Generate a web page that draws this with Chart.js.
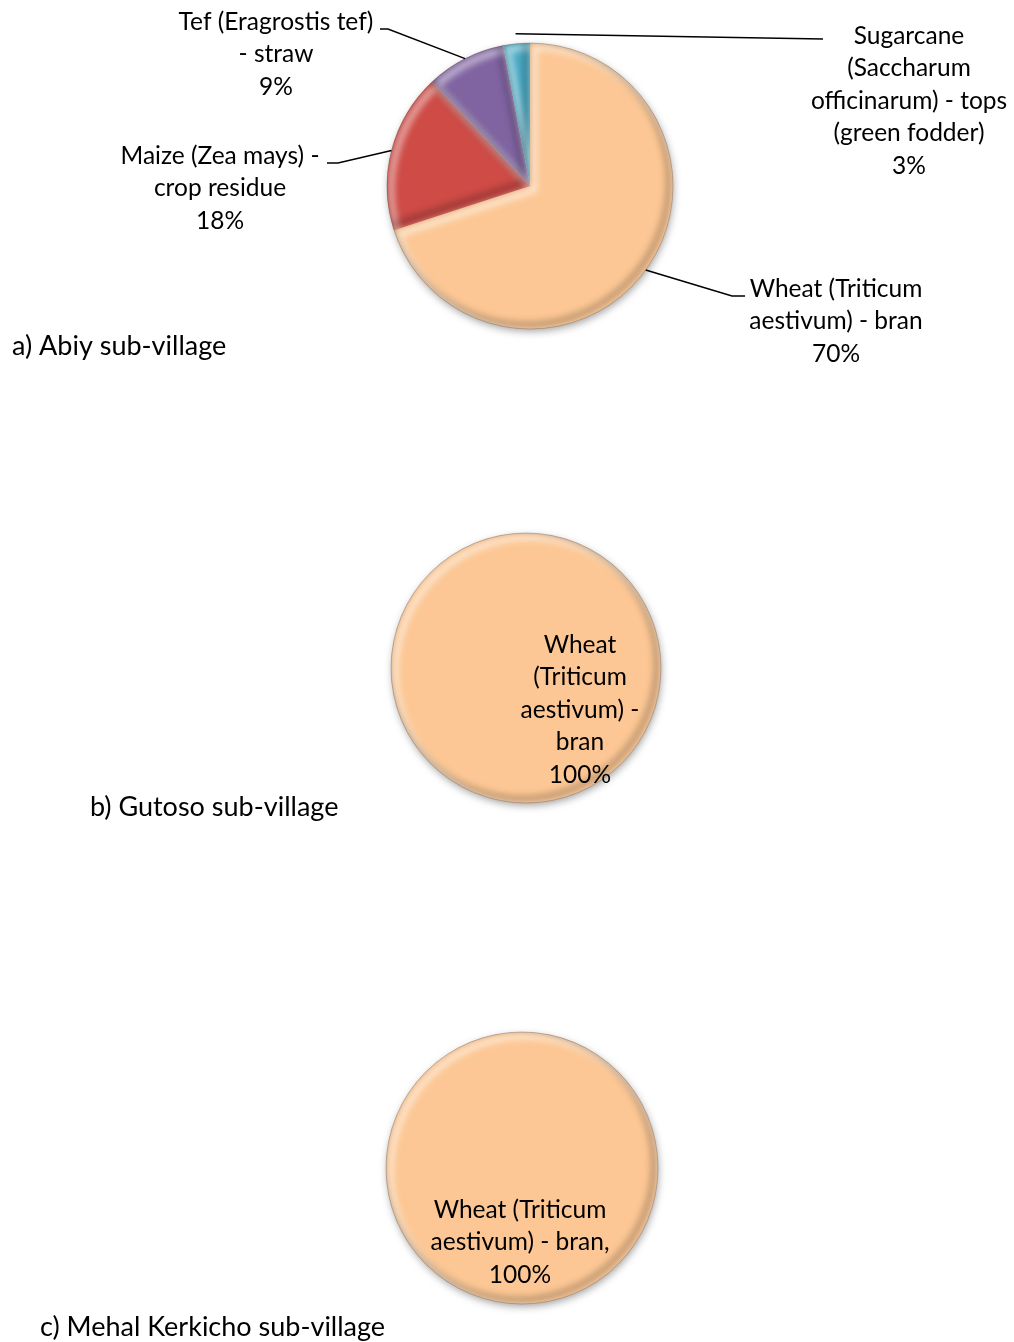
<!DOCTYPE html>
<html>
<head>
<meta charset="utf-8">
<script src="https://cdn.jsdelivr.net/npm/chart.js@4.4.1/dist/chart.umd.min.js"></script>
<style>
    html, body { margin: 0; padding: 0; background: #fff; }
    #page { position: relative; width: 1014px; height: 1342px; overflow: hidden; }
    canvas { position: absolute; left: 0; }
</style>
</head>
<body>
<div id="page">
    <canvas id="abiy" width="1014" height="420" style="top:0"></canvas>
    <canvas id="gutoso" width="1014" height="450" style="top:420px"></canvas>
    <canvas id="mehal" width="1014" height="472" style="top:870px"></canvas>
</div>
<script>
// data
const abiyLabels = [
    'Wheat (Triticum aestivum) - bran',
    'Maize (Zea mays) - crop residue',
    'Tef (Eragrostis tef) - straw',
    'Sugarcane (Saccharum officinarum) - tops (green fodder)'
]
const abiyValues = [70, 18, 9, 3]
const gutosoLabels = ['Wheat (Triticum aestivum) - bran']
const gutosoValues = [100]
const mehalLabels = ['Wheat (Triticum aestivum) - bran']
const mehalValues = [100]
const titles = ['a) Abiy sub-village', 'b) Gutoso sub-village', 'c) Mehal Kerkicho sub-village']

const colors = ['#FCC794', '#CE4B46', '#8064A2', '#4BACC6']
const FONT = '24.5px Lato'
const TITLE_FONT = '27px Lato'
const LH = 32.5

// how each label is broken into lines, and where it sits
const abiyText = [
    {lines: ['Wheat (Triticum', 'aestivum) - bran'], x: 836, y: 289, bend: [732, 296], end: [745, 296]},
    {lines: ['Maize (Zea mays) -', 'crop residue'], x: 220, y: 156, bend: [338, 163], end: [327, 163]},
    {lines: ['Tef (Eragrostis tef)', '- straw'], x: 276, y: 22, bend: [388, 29], end: [380, 29]},
    {lines: ['Sugarcane', '(Saccharum', 'officinarum) - tops', '(green fodder)'], x: 909, y: 36, extra: 10, end: [823, 39]}
]
const gutosoText = [{lines: ['Wheat', '(Triticum', 'aestivum) -', 'bran'], x: 580, y: 225}]
const mehalText = [{lines: ['Wheat (Triticum', 'aestivum) - bran,'], x: 520, y: 340}]

const arcPath = (ctx, a, dx = 0, dy = 0) => {
    ctx.beginPath()
    if (a.endAngle - a.startAngle > Math.PI * 2 - 1e-6) {
        ctx.arc(a.x + dx, a.y + dy, a.outerRadius, 0, Math.PI * 2)
    } else {
        ctx.moveTo(a.x + dx, a.y + dy)
        ctx.arc(a.x + dx, a.y + dy, a.outerRadius, a.startAngle, a.endAngle)
    }
    ctx.closePath()
}

const makeDecor = (text, title) => ({
    id: 'decor',
    beforeDatasetsDraw(chart) {
        const ctx = chart.ctx
        const a = chart.getDatasetMeta(0).data[0]
        ctx.save()
        ctx.shadowColor = 'rgba(0,0,0,0.4)'
        ctx.shadowBlur = 8
        ctx.shadowOffsetX = 1
        ctx.shadowOffsetY = 3
        ctx.fillStyle = colors[0]
        ctx.beginPath()
        ctx.arc(a.x, a.y, a.outerRadius - 1, 0, Math.PI * 2)
        ctx.fill()
        ctx.restore()
    },
    afterDatasetsDraw(chart) {
        const ctx = chart.ctx
        const arcs = chart.getDatasetMeta(0).data
        arcs.forEach(a => {
            ctx.save()
            arcPath(ctx, a)
            ctx.clip()
            ctx.filter = 'blur(3px)'
            ctx.lineWidth = 7
            ctx.strokeStyle = 'rgba(255,255,255,0.5)'
            arcPath(ctx, a, 4, 4)
            ctx.stroke()
            ctx.strokeStyle = 'rgba(0,0,0,0.22)'
            arcPath(ctx, a, -4, -4)
            ctx.stroke()
            ctx.restore()
        })
        const a0 = arcs[0]
        ctx.save()
        ctx.strokeStyle = 'rgba(90,60,40,0.3)'
        ctx.lineWidth = 1
        ctx.beginPath()
        ctx.arc(a0.x, a0.y, a0.outerRadius, 0, Math.PI * 2)
        ctx.stroke()
        ctx.restore()
    },
    afterDraw(chart) {
        const ctx = chart.ctx
        const data = chart.data.datasets[0].data
        const total = data.reduce((s, v) => s + v, 0)
        const arcs = chart.getDatasetMeta(0).data
        ctx.save()
        ctx.font = FONT
        ctx.fillStyle = '#000'
        ctx.textBaseline = 'middle'
        text.forEach((t, i) => {
            const a = arcs[i]
            if (t.end) {
                const mid = (a.startAngle + a.endAngle) / 2
                const rr = a.outerRadius + (t.extra || 0)
                ctx.strokeStyle = '#000'
                ctx.lineWidth = 1.5
                ctx.beginPath()
                ctx.moveTo(a.x + Math.cos(mid) * rr, a.y + Math.sin(mid) * rr)
                if (t.bend) ctx.lineTo(t.bend[0], t.bend[1])
                ctx.lineTo(t.end[0], t.end[1])
                ctx.stroke()
            }
            const pct = Math.round(data[i] / total * 100) + '%'
            ctx.textAlign = 'center'
            ;[...t.lines, pct].forEach((s, k) => ctx.fillText(s, t.x, t.y + k * LH))
        })
        ctx.font = TITLE_FONT
        ctx.textAlign = 'left'
        ctx.fillText(title.text, title.x, title.y)
        ctx.restore()
    }
})

const makePie = (id, labels, values, geo, text, title) => {
    const canvas = document.getElementById(id)
    const W = canvas.width
    const H = canvas.height
    return new Chart(canvas, {
        type: 'pie',
        data: {
            labels: labels,
            datasets: [{
                data: values,
                backgroundColor: colors.slice(0, values.length),
                borderWidth: 0
            }]
        },
        options: {
            responsive: false,
            animation: false,
            events: [],
            radius: geo.r,
            layout: {
                padding: {
                    left: geo.cx - geo.r,
                    right: W - geo.cx - geo.r,
                    top: geo.cy - geo.r,
                    bottom: H - geo.cy - geo.r
                }
            },
            plugins: {
                legend: {display: false},
                tooltip: {enabled: false}
            }
        },
        plugins: [makeDecor(text, title)]
    })
}

makePie('abiy', abiyLabels, abiyValues, {cx: 530, cy: 186, r: 143}, abiyText,
    {text: titles[0], x: 12, y: 346})
makePie('gutoso', gutosoLabels, gutosoValues, {cx: 526, cy: 248, r: 135}, gutosoText,
    {text: titles[1], x: 90, y: 387})
makePie('mehal', mehalLabels, mehalValues, {cx: 522, cy: 298, r: 136}, mehalText,
    {text: titles[2], x: 40, y: 457})
</script>
</body>
</html>
